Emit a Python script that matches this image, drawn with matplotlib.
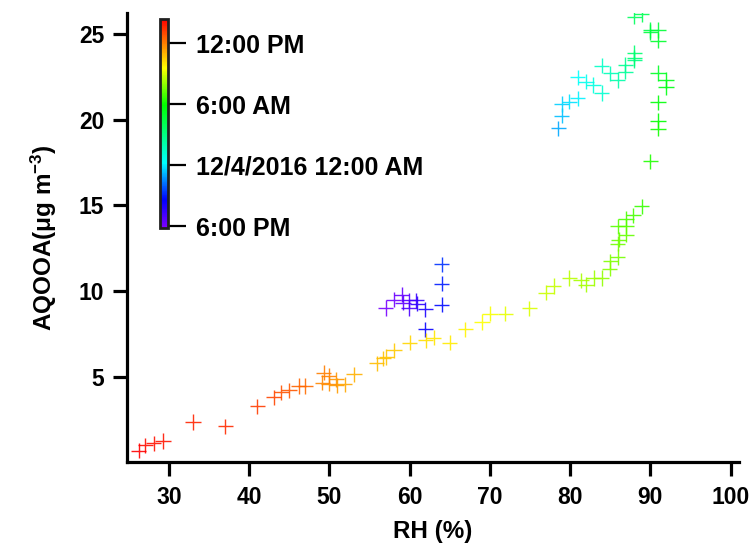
import matplotlib
matplotlib.use("Agg")
import matplotlib.pyplot as plt
import numpy as np
from matplotlib.colors import LinearSegmentedColormap

plt.rcParams['font.family'] = ['Liberation Sans', 'DejaVu Sans']
plt.rcParams['font.weight'] = 'bold'
plt.rcParams['mathtext.fontset'] = 'custom'
plt.rcParams['mathtext.rm'] = 'Liberation Sans:bold'
plt.rcParams['mathtext.bf'] = 'Liberation Sans:bold'
plt.rcParams['mathtext.default'] = 'bf'

# Data: RH (%), AQOOA (ug m-3), time in hours since 12/3/2016 6:00 PM
rh = [57.0, 58.0, 59.0, 59.15, 59.9, 59.9, 60.8, 60.93, 61.93, 61.93, 64.0, 64.0, 64.0,
      78.5, 78.96, 78.96, 79.9, 80.93, 80.93, 81.98, 82.89, 83.93, 83.93, 84.98, 85.9,
      86.87, 86.87, 88.0, 88.0, 88.0,
      88.0, 88.9, 89.98, 89.98, 90.95, 90.95, 90.95, 91.94, 91.94, 90.95, 90.95, 90.95,
      89.98, 88.9,
      87.87, 86.96, 86.96, 85.9, 86.96, 86.04, 85.9, 85.9, 84.98, 84.9, 83.93, 82.93,
      81.98, 81.35, 79.9,
      77.95, 77.0, 74.9, 71.9, 70.0, 69.0, 66.95, 64.96, 63.0, 62.0, 60.0, 58.05, 57.1,
      56.7, 55.9,
      53.04, 51.9, 50.9, 50.85, 49.9, 49.1, 49.9, 49.27, 47.0, 46.15, 44.95, 44.0, 43.04,
      41.0, 37.0, 33.0, 29.25, 28.1, 27.06, 26.2]
aqooa = [9.03, 9.52, 9.81, 9.34, 9.48, 9.03, 9.48, 9.28, 8.95, 7.79, 9.23, 10.45, 11.57,
         19.5, 20.23, 20.9, 21.05, 21.24, 22.46, 22.2, 22.02, 21.55, 23.14, 22.69, 22.3,
         22.79, 23.2, 23.47, 23.59, 23.88,
         25.99, 26.15, 25.21, 25.1, 25.21, 24.6, 22.71, 22.3, 21.88, 21.0, 19.94, 19.46,
         17.56, 14.94,
         14.42, 14.23, 13.78, 13.78, 13.3, 13.0, 12.77, 12.0, 11.74, 11.32, 10.77, 10.77,
         10.39, 10.64, 10.77,
         10.31, 9.92, 9.0, 8.7, 8.7, 8.21, 7.79, 7.0, 7.29, 7.15, 7.0, 6.57, 6.18,
         6.09, 5.8,
         5.16, 4.59, 4.53, 4.88, 4.63, 4.67, 5.08, 5.25, 4.49, 4.49, 4.24, 4.11, 3.82,
         3.3, 2.13, 2.38, 1.28, 1.15, 1.03, 0.72]
hours = [0.0, 0.2, 0.4, 0.6, 0.8, 1.0, 1.3, 1.6, 2.0, 2.4, 2.7, 3.0, 3.3,
         5.0, 5.3, 5.5, 5.8, 6.0, 6.3, 6.6, 6.9, 7.2, 7.5, 7.8, 8.1,
         8.4, 8.7, 9.0, 9.2, 9.4,
         9.8, 10.0, 10.3, 10.5, 10.7, 10.9, 11.1, 11.3, 11.5, 11.7, 11.9, 12.1,
         12.4, 12.7,
         12.9, 13.0, 13.1, 13.2, 13.3, 13.4, 13.5, 13.6, 13.7, 13.8, 14.0, 14.1,
         14.2, 14.3, 14.5,
         14.7, 14.8, 15.0, 15.2, 15.4, 15.5, 15.7, 15.9, 16.0, 16.1, 16.3, 16.5, 16.6,
         16.7, 16.8,
         17.0, 17.2, 17.4, 17.5, 17.7, 17.8, 17.9, 18.0, 18.3, 18.5, 18.7, 18.8, 19.0,
         19.2, 19.5, 19.7, 19.9, 20.0, 20.1, 20.3]

cbar_ticks = [0, 6, 12, 18]
cbar_labels = ['6:00 PM', '12/4/2016 12:00 AM', '6:00 AM', '12:00 PM']
x_ticks = [30, 40, 50, 60, 70, 80, 90, 100]
y_ticks = [5, 10, 15, 20, 25]

cmap = LinearSegmentedColormap.from_list('igor_rainbow', [
    (0.0, (0.5, 0.0, 1.0)),
    (0.134, (0.0, 0.0, 1.0)),
    (0.311, (0.0, 1.0, 1.0)),
    (0.589, (0.0, 1.0, 0.0)),
    (0.766, (1.0, 1.0, 0.0)),
    (0.885, (1.0, 0.5, 0.0)),
    (1.0, (1.0, 0.0, 0.0)),
])

fig = plt.figure(figsize=(7.53, 5.47), dpi=100)
ax = fig.add_axes([0.168, 0.1545, 0.813, 0.8215])

sc = ax.scatter(rh, aqooa, c=hours, cmap=cmap, vmin=-0.2, vmax=20.35,
                marker='+', s=121, linewidths=1.0, alpha=0.9)

ax.set_xlim(24.7, 101)
ax.set_ylim(0.03, 26.2)
ax.set_xticks(x_ticks)
ax.set_yticks(y_ticks)
for s in ['top', 'right']:
    ax.spines[s].set_visible(False)
for s in ['left', 'bottom']:
    ax.spines[s].set_linewidth(2.3)
ax.tick_params(axis='both', direction='out', length=10, width=2.3, labelsize=16.5)
ax.tick_params(axis='x', pad=7)
ax.tick_params(axis='y', pad=6)
for lab in ax.get_xticklabels() + ax.get_yticklabels():
    lab.set_fontweight('bold')

ax.set_xlabel('RH (%)', fontsize=17.5, fontweight='bold', labelpad=8)
ax.set_ylabel(r'AQOOA(μg m$^{-3}$)', fontsize=17.5, fontweight='bold', labelpad=14)

cax = fig.add_axes([0.2125, 0.583, 0.0106, 0.382])
cb = fig.colorbar(sc, cax=cax)
cb.solids.set_alpha(1)
cb.set_ticks(cbar_ticks)
cb.set_ticklabels(cbar_labels)
cb.outline.set_linewidth(2)
cb.outline.set_edgecolor('#202020')
cax.tick_params(direction='out', length=13, width=1.6, labelsize=18, pad=7)
for lab in cax.get_yticklabels():
    lab.set_fontweight('bold')

fig.savefig('out.png', dpi=100)
